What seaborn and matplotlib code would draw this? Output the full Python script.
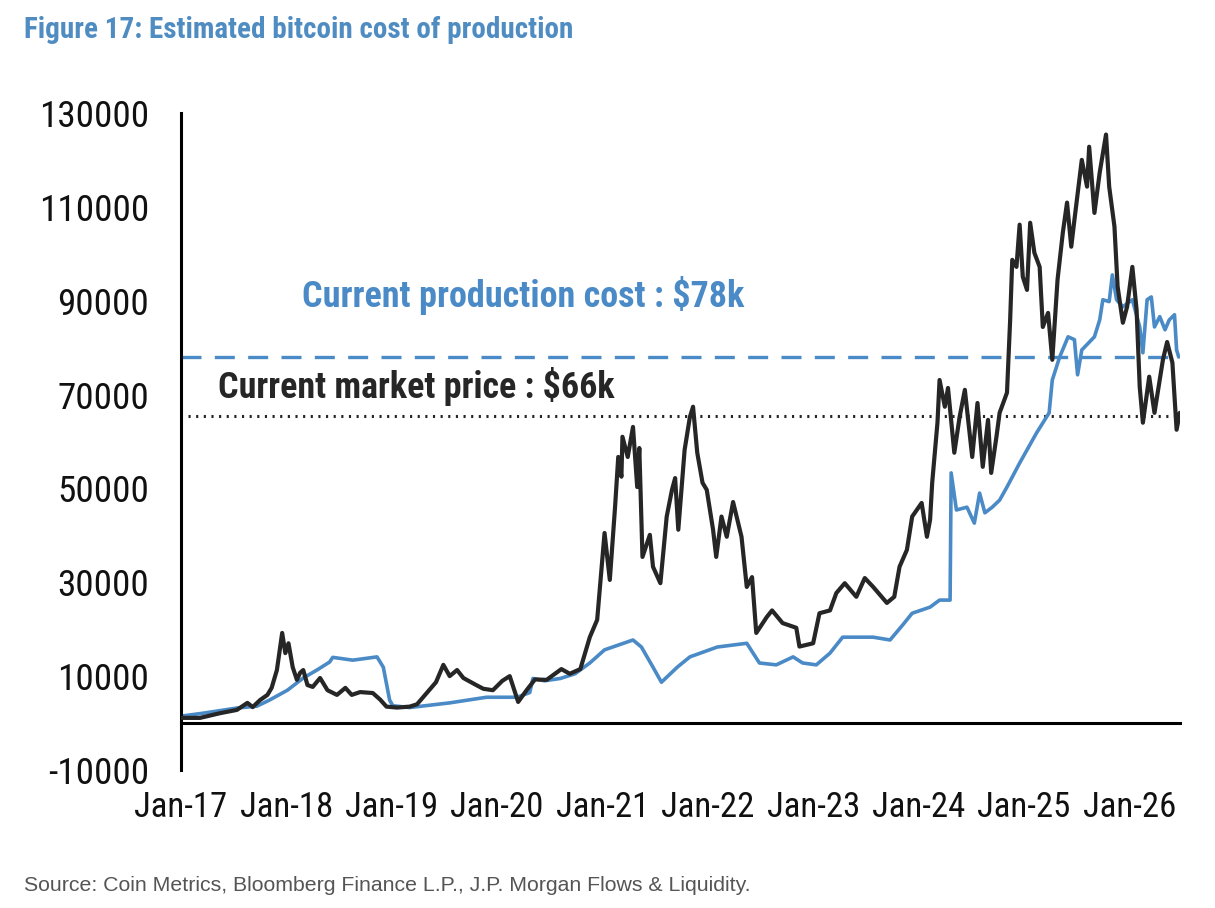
import matplotlib
matplotlib.use("Agg")
import matplotlib.pyplot as plt
from matplotlib import font_manager
import seaborn as sns
import pandas as pd

# ---- data (decimal year, USD) ----
price_t = [2017.01, 2017.18, 2017.37, 2017.53, 2017.63, 2017.68, 2017.75, 2017.82, 2017.86, 2017.91,
           2017.96, 2017.99, 2018.02, 2018.06, 2018.10, 2018.13, 2018.16, 2018.20, 2018.25, 2018.32,
           2018.39, 2018.48, 2018.56, 2018.62, 2018.70, 2018.82, 2018.89, 2018.95, 2019.05, 2019.17,
           2019.24, 2019.34, 2019.42, 2019.49, 2019.55, 2019.62, 2019.68, 2019.81, 2019.87, 2019.96,
           2020.05, 2020.12, 2020.20, 2020.28, 2020.36, 2020.47, 2020.61, 2020.69, 2020.79, 2020.88,
           2020.95, 2021.02, 2021.07, 2021.12, 2021.15, 2021.18, 2021.19, 2021.24, 2021.29, 2021.33,
           2021.35, 2021.38, 2021.45, 2021.48, 2021.55, 2021.61, 2021.66, 2021.69, 2021.72, 2021.78,
           2021.83, 2021.86, 2021.90, 2021.95, 2021.99, 2022.05, 2022.08, 2022.13, 2022.18, 2022.24,
           2022.32, 2022.37, 2022.42, 2022.46, 2022.56, 2022.61, 2022.71, 2022.84, 2022.87, 2023.00,
           2023.06, 2023.16, 2023.22, 2023.30, 2023.41, 2023.49, 2023.57, 2023.70, 2023.77, 2023.82,
           2023.89, 2023.94, 2024.03, 2024.08, 2024.11, 2024.13, 2024.18, 2024.20, 2024.25, 2024.28,
           2024.34, 2024.39, 2024.44, 2024.51, 2024.56, 2024.61, 2024.66, 2024.69, 2024.74, 2024.77,
           2024.84, 2024.87, 2024.89, 2024.93, 2024.96, 2024.99, 2025.03, 2025.06, 2025.10, 2025.15,
           2025.18, 2025.23, 2025.27, 2025.32, 2025.37, 2025.41, 2025.45, 2025.48, 2025.55, 2025.60,
           2025.62, 2025.67, 2025.72, 2025.78, 2025.81, 2025.86, 2025.89, 2025.94, 2025.98, 2026.03,
           2026.07, 2026.10, 2026.13, 2026.19, 2026.24, 2026.32, 2026.36, 2026.41, 2026.45, 2026.48]
price_v = [1100, 1100, 2100, 2800, 4300, 3400, 4900, 6000, 7500, 11300,
           19200, 14900, 17000, 11900, 9200, 10700, 11300, 8100, 7700, 9600,
           7000, 6000, 7500, 6000, 6600, 6400, 5000, 3500, 3300, 3500,
           4000, 6600, 8700, 12400, 10000, 11300, 9600, 8000, 7300, 7000,
           9000, 10000, 4500, 7000, 9300, 9200, 11500, 10500, 11500, 18300,
           22000, 40500, 30500, 46100, 56700, 52500, 61000, 56700, 63100, 50300,
           58600, 35400, 40100, 33300, 29800, 44000, 49700, 52200, 41200, 58200,
           65200, 67400, 57600, 51200, 49700, 41200, 35400, 44000, 39700, 47100,
           39700, 29000, 31100, 19200, 22600, 24000, 21300, 20300, 16300, 17000,
           23400, 24000, 27700, 29800, 26900, 30900, 29000, 25600, 26900, 33300,
           36900, 44000, 46900, 39700, 43300, 51200, 64000, 73100, 67400, 71400,
           57600, 65200, 71000, 56700, 68200, 54600, 64600, 53300, 61000, 66100,
           70400, 85900, 98700, 97200, 106200, 95100, 92300, 106600, 100200, 97200,
           84400, 87400, 77400, 94500, 104500, 110900, 101500, 107200, 120000, 114300,
           122800, 108700, 117300, 125400, 114300, 105800, 93000, 85300, 88700, 97200,
           88100, 71600, 64000, 73800, 66100, 77400, 81200, 76800, 62500, 66100]

cost_t = [2017.01, 2017.21, 2017.53, 2017.72, 2017.84, 2018.01, 2018.16, 2018.29, 2018.41, 2018.44,
          2018.63, 2018.86, 2018.92, 2018.98, 2019.01, 2019.17, 2019.55, 2019.90, 2020.19, 2020.31,
          2020.34, 2020.45, 2020.60, 2020.74, 2020.88, 2021.02, 2021.29, 2021.37, 2021.48, 2021.56,
          2021.71, 2021.83, 2022.09, 2022.37, 2022.49, 2022.65, 2022.81, 2022.90, 2023.03, 2023.16,
          2023.28, 2023.57, 2023.73, 2023.85, 2023.94, 2024.11, 2024.20, 2024.30, 2024.31, 2024.36,
          2024.46, 2024.53, 2024.58, 2024.63, 2024.70, 2024.77, 2024.84, 2024.96, 2025.12, 2025.24,
          2025.27, 2025.34, 2025.42, 2025.48, 2025.51, 2025.55, 2025.67, 2025.72, 2025.75, 2025.81,
          2025.84, 2025.88, 2025.94, 2026.03, 2026.10, 2026.13, 2026.17, 2026.21, 2026.24, 2026.29,
          2026.34, 2026.38, 2026.43, 2026.45, 2026.47]
cost_v = [1500, 2100, 3200, 3600, 4900, 7000, 9600, 11300, 13000, 14000,
          13400, 14100, 11900, 4900, 3700, 3300, 4300, 5500, 5500, 6500,
          9500, 9000, 9500, 10500, 12800, 15600, 17700, 16200, 11900, 8700,
          11900, 14100, 16200, 17000, 12800, 12400, 14100, 12800, 12400, 14900,
          18300, 18300, 17700, 20900, 23400, 24700, 26200, 26200, 53300, 45400,
          46000, 42600, 49000, 44800, 46000, 47500, 50300, 55400, 61800, 66100,
          73100, 78000, 82300, 81700, 74200, 79500, 82300, 85900, 90200, 89800,
          95500, 90200, 88700, 90200, 84400, 78900, 90200, 90800, 84400, 86600,
          83800, 85900, 87000, 79500, 78000]

tick_years = [2017, 2018, 2019, 2020, 2021, 2022, 2023, 2024, 2025, 2026]
tick_labels = ["Jan-17", "Jan-18", "Jan-19", "Jan-20", "Jan-21",
               "Jan-22", "Jan-23", "Jan-24", "Jan-25", "Jan-26"]
y_ticks = [-10000, 10000, 30000, 50000, 70000, 90000, 110000, 130000]

current_cost = 78000
current_price = 65500

BLUE = "#4a8ac6"
TITLE_BLUE = "#4f8cc2"
BLACK = "#262626"

sns.set_theme(style="white")

# prefer a narrow sans (the reference uses a condensed Arial-like face)
_names = {f.name for f in font_manager.fontManager.ttflist}
_narrow = [n for n in ["Liberation Sans Narrow", "Arial Narrow", "Roboto Condensed",
                       "Open Sans Condensed", "Noto Sans Condensed"] if n in _names]
FAM = _narrow + ["Liberation Sans", "DejaVu Sans"]
plt.rcParams['font.family'] = FAM

fig = plt.figure(figsize=(12.15, 9.08), dpi=100)
renderer = fig.canvas.get_renderer()


def fit_size(text, target_px, weight="normal", family=None, base=20.0):
    t = fig.text(0, 0, text, fontsize=base, fontweight=weight,
                 family=family if family else FAM)
    w = t.get_window_extent(renderer).width
    t.remove()
    return base * target_px / w


ax = fig.add_axes([0.149, 0.152, 0.822, 0.7236])

df_cost = pd.DataFrame({"t": cost_t, "v": cost_v})
df_price = pd.DataFrame({"t": price_t, "v": price_v})

ax.axhline(current_cost, color=BLUE, lw=2.4, ls=(0, (6, 4)), zorder=1)
ax.plot([2017.07, 2026.45], [current_price, current_price], color=BLACK, lw=2.2,
        ls=(0, (0.7, 1.8)), zorder=1)
sns.lineplot(data=df_cost, x="t", y="v", ax=ax, color=BLUE, lw=2.6, zorder=2,
             estimator=None, sort=False)
sns.lineplot(data=df_price, x="t", y="v", ax=ax, color=BLACK, lw=3.0, zorder=3,
             estimator=None, sort=False)

ax.set_xlim(2017.0, 2026.48)
ax.set_ylim(-10000, 130000)
ax.set_xlabel("")
ax.set_ylabel("")

for s in ["top", "right"]:
    ax.spines[s].set_visible(False)
ax.spines["bottom"].set_position(("data", 0))
for s in ["left", "bottom"]:
    ax.spines[s].set_color("black")
    ax.spines[s].set_linewidth(2.2)

xs = min(fit_size("Jan-17", 93), 27)
ys = min(fit_size("130000", 110), 28)

ax.set_xticks(tick_years)
ax.set_xticklabels(tick_labels)
ax.set_yticks(y_ticks)
ax.set_yticklabels([str(v) for v in y_ticks])
ax.tick_params(axis="x", direction="out", length=8, width=2.2, colors="black",
               labelsize=xs, pad=41, labelcolor="#111111")
ax.tick_params(axis="y", direction="out", length=8, width=2.2, colors="black",
               labelsize=ys, pad=15, labelcolor="#111111")
ax.grid(False)

s1 = "Current production cost : $78k"
s2 = "Current market price : $66k"
ax.text(2018.15, 91200, s1, color=BLUE, fontsize=min(fit_size(s1, 443, "bold"), 26),
        fontweight="bold", va="center", ha="left")
ax.text(2017.35, 71800, s2, color=BLACK, fontsize=min(fit_size(s2, 395, "bold"), 26),
        fontweight="bold", va="center", ha="left")

title = "Figure 17: Estimated bitcoin cost of production"
fig.text(0.02, 0.967, title, color=TITLE_BLUE,
         fontsize=min(fit_size(title, 673, "bold"), 21), fontweight="bold",
         va="center", ha="left")
src = "Source: Coin Metrics, Bloomberg Finance L.P., J.P. Morgan Flows & Liquidity."
fig.text(0.02, 0.025, src, color="#555555",
         fontsize=fit_size(src, 728, family=["Liberation Sans", "DejaVu Sans"]),
         va="center", ha="left", family=["Liberation Sans", "DejaVu Sans"])

fig.savefig("out.png", dpi=100, facecolor="white")
